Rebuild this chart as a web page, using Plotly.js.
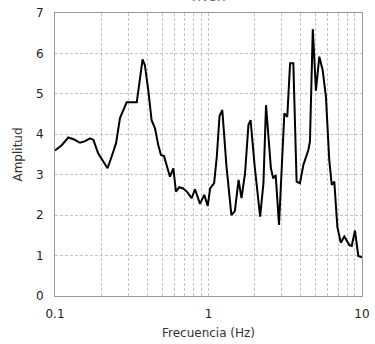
<!DOCTYPE html>
<html>
<head>
<meta charset="utf-8">
<script src="https://cdn.plot.ly/plotly-3.0.1.min.js"></script>
<style>html,body{margin:0;padding:0;background:#fff;}#chart{width:375px;height:344px;}</style>
</head>
<body>
<div id="chart"></div>
<script>
const frecuencia = [0.1, 0.1106, 0.122, 0.1335, 0.1455, 0.157, 0.169, 0.178, 0.191, 0.206, 0.220, 0.234, 0.250, 0.265, 0.278, 0.293, 0.341, 0.352, 0.372, 0.385, 0.405, 0.426, 0.448, 0.471, 0.49, 0.513, 0.539, 0.561, 0.590, 0.614, 0.645, 0.685, 0.727, 0.777, 0.817, 0.88, 0.938, 0.989, 1.025, 1.088, 1.133, 1.18, 1.23, 1.31, 1.41, 1.485, 1.57, 1.64, 1.73, 1.82, 1.88, 2.0, 2.17, 2.28, 2.37, 2.55, 2.64, 2.74, 2.88, 3.12, 3.26, 3.40, 3.57, 3.75, 3.94, 4.15, 4.47, 4.58, 4.78, 5.01, 5.27, 5.54, 5.82, 6.12, 6.35, 6.60, 6.91, 7.27, 7.67, 8.27, 8.57, 9.0, 9.46, 10.0];
const amplitud = [3.60, 3.73, 3.92, 3.87, 3.79, 3.83, 3.90, 3.86, 3.53, 3.32, 3.16, 3.45, 3.78, 4.40, 4.60, 4.79, 4.79, 5.18, 5.85, 5.71, 5.10, 4.35, 4.15, 3.73, 3.49, 3.46, 3.16, 2.95, 3.16, 2.58, 2.69, 2.66, 2.57, 2.42, 2.64, 2.28, 2.50, 2.23, 2.66, 2.79, 3.45, 4.45, 4.60, 3.20, 2.00, 2.10, 2.87, 2.42, 3.03, 4.23, 4.35, 3.20, 1.96, 2.79, 4.72, 3.16, 2.91, 2.99, 1.76, 4.52, 4.43, 5.76, 5.76, 2.83, 2.79, 3.24, 3.61, 3.82, 6.60, 5.08, 5.92, 5.59, 4.93, 3.36, 2.75, 2.83, 1.71, 1.32, 1.47, 1.26, 1.24, 1.62, 0.99, 0.96];
const xTickVals = [0.1,0.2,0.3,0.4,0.5,0.6,0.7,0.8,0.9,1,2,3,4,5,6,7,8,9,10];
const xTickText = ['0.1','','','','','','','','','1','','','','','','','','','10'];
const yTickVals = [0,1,2,3,4,5,6,7];
const chartTitle = 'HVSR';

const trace = {
  x: frecuencia, y: amplitud, type: 'scatter', mode: 'lines',
  line: {color: '#000000', width: 2}, hoverinfo: 'skip'
};
const layout = {
  width: 375, height: 344,
  margin: {l: 55, r: 13, t: 13, b: 48},
  paper_bgcolor: '#ffffff', plot_bgcolor: '#ffffff',
  font: {family: 'DejaVu Sans, Verdana, sans-serif', size: 12, color: '#222'},
  showlegend: false,
  annotations: [{
    text: chartTitle, xref: 'paper', yref: 'paper', x: 0.5, y: 1,
    xanchor: 'center', yanchor: 'middle', yshift: 16, showarrow: false,
    font: {size: 12, color: '#666'}
  }],
  xaxis: {
    type: 'log', range: [-1, 1], tickmode: 'array', tickvals: xTickVals, ticktext: xTickText,
    showgrid: true, gridcolor: '#c4c4c4', griddash: '3px,2px', gridwidth: 1,
    showline: true, linecolor: '#999', linewidth: 1, mirror: true,
    ticks: 'outside', ticklen: 7, tickcolor: 'rgba(0,0,0,0)', zeroline: false,
    tickfont: {size: 12, color: '#222'},
    title: {text: 'Frecuencia (Hz)', font: {size: 12, color: '#333'}, standoff: 8}
  },
  yaxis: {
    range: [0, 7], tickmode: 'array', tickvals: yTickVals,
    showgrid: true, gridcolor: '#c4c4c4', griddash: '3px,2px', gridwidth: 1,
    showline: true, linecolor: '#999', linewidth: 1, mirror: true,
    ticks: 'outside', ticklen: 8, tickcolor: 'rgba(0,0,0,0)', zeroline: false,
    tickfont: {size: 12, color: '#222'},
    title: {text: 'Amplitud', font: {size: 12, color: '#333'}, standoff: 10}
  }
};
Plotly.newPlot('chart', [trace], layout, {staticPlot: true, displayModeBar: false});
</script>
</body>
</html>
